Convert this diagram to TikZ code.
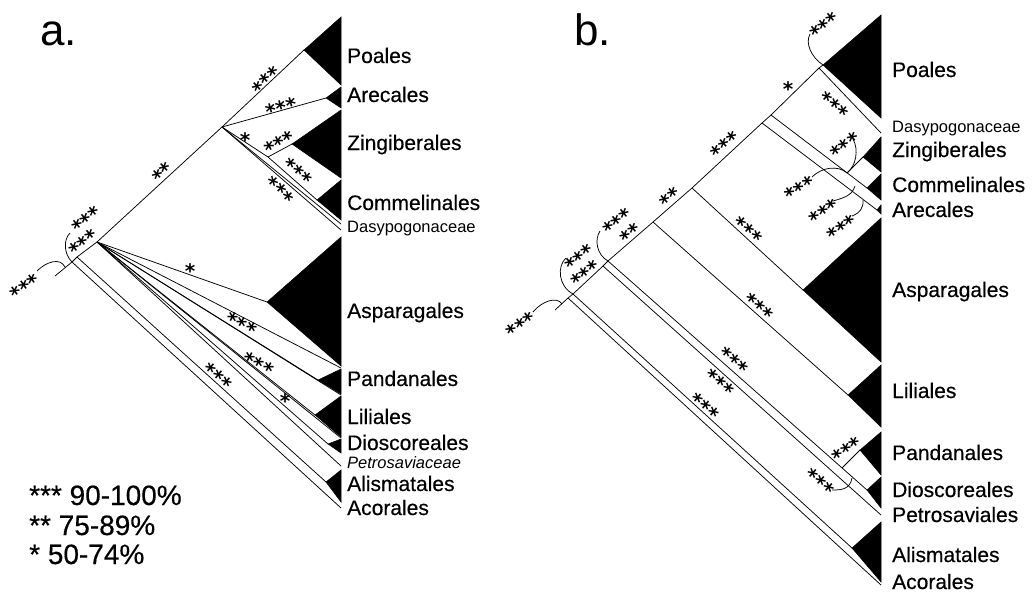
\documentclass[tikz,border=0pt]{standalone}
\usepackage{fontspec}
\setmainfont{Liberation Sans}
\newfontfamily\labfont[FakeBold=0.4]{Liberation Sans}
\newfontfamily\starfont{DejaVu Sans}
\newcommand\stk[1]{\smash{\raisebox{-0.57em}{#1}}}
\tikzset{
  br/.style={line width=0.75pt, line join=round},
  tri/.style={fill=black, draw=black, line width=0.5pt},
  lab/.style={anchor=base west, inner sep=0pt, font=\labfont\fontsize{21}{24}\selectfont},
  slab/.style={anchor=base west, inner sep=0pt, font=\fontsize{16.5}{19}\selectfont},
  st/.style={inner sep=0pt, font=\starfont\bfseries\fontsize{20}{22}\selectfont},
  big/.style={anchor=base west, inner sep=0pt, font=\fontsize{44}{50}\selectfont},
  leg/.style={anchor=base west, inner sep=0pt, font=\labfont\fontsize{28}{32}\selectfont},
}
\begin{document}
\begin{tikzpicture}[x=1pt,y=-1pt]
\useasboundingbox (0,0) rectangle (1032,592);
\fill[white] (0,0) rectangle (1032,592);

% ================= PANEL A =================
\node[big] (atitle) at (40,45) {a.};
\coordinate (aS) at (55,276);
\coordinate (aR) at (72,262);
\coordinate (aN1) at (77,257);
\coordinate (aN2) at (97,242);
\coordinate (aN3) at (222,127);
\coordinate (aN4) at (268,157);
\coordinate (aPo) at (304,50);
\coordinate (aAr) at (326,98);
\coordinate (aZi) at (292,144);
\coordinate (aCo) at (317,200);
\coordinate (aDa1) at (341,224);
\coordinate (aDa2) at (341,230);
\coordinate (aAs) at (267,302);
\coordinate (aPa) at (318,380);
\coordinate (aPaT) at (341,368);
\coordinate (aLi) at (315,415);
\coordinate (aLiT) at (341,395);
\coordinate (aDi) at (328,444);
\coordinate (aDiT) at (341,438);
\coordinate (aPe) at (341,466);
\coordinate (aAl) at (326,482);
\coordinate (aAc) at (341,508);
\fill[tri] (341,17) -- (aPo) -- (341,85) -- cycle;
\fill[tri] (341,87) -- (aAr) -- (341,108) -- cycle;
\fill[tri] (341,110) -- (aZi) -- (341,178) -- cycle;
\fill[tri] (341,180) -- (aCo) -- (341,220) -- cycle;
\fill[tri] (341,237) -- (aAs) -- (341,366) -- cycle;
\fill[tri] (341,369) -- (aPa) -- (341,394) -- cycle;
\fill[tri] (341,396) -- (aLi) -- (341,437) -- cycle;
\fill[tri] (341,439) -- (aDi) -- (341,453) -- cycle;
\fill[tri] (341,470) -- (aAl) -- (341,502) -- cycle;
\draw[br] (aS) -- (aR) -- (aN1) -- (aN2) -- (aN3);
\draw[br] (aR) -- (aAc);
\draw[br] (aN1) -- (aAl);
\draw[br] (aN2) -- (aPe);
\draw[br] (aN2) -- (aDi);
\draw[br] (aN2) -- (aDiT);
\draw[br] (aN2) -- (aLi);
\draw[br] (aN2) -- (aLiT);
\draw[br] (aN2) -- (aPa);
\draw[br] (aN2) -- (aPaT);
\draw[br] (aN2) -- (aAs);
\draw[br] (aN3) -- (aPo);
\draw[br] (aN3) -- (aAr);
\draw[br] (aN3) -- (aN4);
\draw[br] (aN4) -- (aZi);
\draw[br] (aN4) -- (aCo);
\draw[br] (aN3) -- (aDa1);
\draw[br] (aN3) -- (aDa2);
\coordinate (aL1) at (37,271);
\coordinate (aL2) at (65,267);
\draw[br] (aL1) .. controls (46,262) and (60,257) .. (aL2);
\coordinate (aB1) at (70,233);
\draw[br] (aB1) .. controls (63,240) and (64,254) .. (aR);
\node[st,rotate=43] (as1) at (264,78) {\stk{***}};
\node[st,rotate=15] (as2) at (280,104) {\stk{***}};
\node[st] (as3) at (245,136) {\stk{*}};
\node[st,rotate=28] (as4) at (278,140) {\stk{***}};
\node[st,rotate=-40] (as5) at (300,169) {\stk{***}};
\node[st,rotate=-47] (as6) at (282,188) {\stk{***}};
\node[st,rotate=43] (as7) at (160,170) {\stk{**}};
\node[st,rotate=40] (as8) at (84,217) {\stk{***}};
\node[st,rotate=40] (as9) at (81,240) {\stk{***}};
\node[st,rotate=35] (as10) at (23,284) {\stk{***}};
\node[st] (as11) at (190,267) {\stk{*}};
\node[st,rotate=-29] (as12) at (243,321) {\stk{***}};
\node[st,rotate=-29] (as13) at (260,361) {\stk{***}};
\node[st] (as14) at (285,397) {\stk{*}};
\node[st,rotate=-39] (as15) at (220,374) {\stk{***}};
\node[lab] (tPo) at (347,63) {Poales};
\node[lab] (tAr) at (347,102) {Arecales};
\node[lab] (tZi) at (347,150) {Zingiberales};
\node[lab] (tCo) at (347,210) {Commelinales};
\node[slab] (tDa) at (347,232) {Dasypogonaceae};
\node[lab] (tAs) at (347,318) {Asparagales};
\node[lab] (tPa) at (347,386) {Pandanales};
\node[lab] (tLi) at (347,424) {Liliales};
\node[lab] (tDi) at (347,450) {Dioscoreales};
\node[slab] (tPe) at (347,468) {\itshape Petrosaviaceae};
\node[lab] (tAl) at (347,491) {Alismatales};
\node[lab] (tAc) at (347,515) {Acorales};
\node[leg] (lg1) at (29,505) {*** 90-100\%};
\node[leg] (lg2) at (29,535) {** 75-89\%};
\node[leg] (lg3) at (29,564) {* 50-74\%};

% ================= PANEL B =================
\node[big] (btitle) at (574,45) {b.};
\coordinate (bS) at (555,310);
\coordinate (bR) at (568,298);
\coordinate (bN1) at (573,294);
\coordinate (bN2p) at (603,266);
\coordinate (bN2) at (608,261);
\coordinate (bN3) at (653,222);
\coordinate (bN4) at (692,188);
\coordinate (bN5) at (762,123);
\coordinate (bN6) at (771,115);
\coordinate (bP) at (819,68);
\coordinate (bPo) at (823,65);
\coordinate (bDa) at (881,133);
\coordinate (bZiJ) at (847,173);
\coordinate (bZi) at (863,157);
\coordinate (bCo) at (867,188);
\coordinate (bAr) at (877,210);
\coordinate (bAs) at (803,290);
\coordinate (bLi) at (848,395);
\coordinate (bPaJ) at (842,468);
\coordinate (bPa) at (860,450);
\coordinate (bDi) at (867,490);
\coordinate (bPe) at (881,515);
\coordinate (bAl) at (852,548);
\coordinate (bAc) at (881,585);
\fill[tri] (881,15) -- (bPo) -- (881,118) -- cycle;
\fill[tri] (881,137) -- (bZi) -- (881,172) -- cycle;
\fill[tri] (881,174) -- (bCo) -- (881,200) -- cycle;
\fill[tri] (881,205) -- (bAr) -- (881,214) -- cycle;
\fill[tri] (881,218) -- (bAs) -- (881,362) -- cycle;
\fill[tri] (881,365) -- (bLi) -- (881,427) -- cycle;
\fill[tri] (881,432) -- (bPa) -- (881,475) -- cycle;
\fill[tri] (881,477) -- (bDi) -- (881,508) -- cycle;
\fill[tri] (881,522) -- (bAl) -- (881,582) -- cycle;
\draw[br] (bS) -- (bR) -- (bN1) -- (bN2p) -- (bN2) -- (bN3) -- (bN4) -- (bN5) -- (bN6) -- (bP) -- (bPo);
\draw[br] (bR) -- (bAc);
\draw[br] (bN1) -- (bAl);
\draw[br] (bN2p) -- (bPe);
\draw[br] (bN2) -- (bDi);
\draw[br] (bPaJ) -- (bPa);
\draw[br] (bN3) -- (bLi);
\draw[br] (bN4) -- (bAs);
\draw[br] (bN5) -- (bAr);
\draw[br] (bN6) -- (bCo);
\draw[br] (bZiJ) -- (bZi);
\draw[br] (bP) -- (bDa);
\coordinate (bL1) at (533,312);
\coordinate (bL2) at (562,304);
\draw[br] (bL1) .. controls (542,301) and (557,296) .. (bL2);
\coordinate (bB1) at (566,258);
\draw[br] (bB1) .. controls (557,266) and (558,286) .. (bN1);
\coordinate (bB2) at (600,231);
\draw[br] (bB2) .. controls (594,240) and (597,255) .. (bN2);
\coordinate (bQ1) at (810,34);
\draw[br] (bQ1) .. controls (805,43) and (811,57) .. (bPo);
\coordinate (bQ2) at (853,139);
\draw[br] (bQ2) .. controls (859,150) and (856,166) .. (bZiJ);
\coordinate (bQ3) at (812,177);
\draw[br] (bQ3) .. controls (822,167) and (838,165) .. (bZiJ);
\coordinate (bQ4) at (833,201);
\coordinate (bQ4e) at (855,186);
\draw[br] (bQ4) .. controls (843,198) and (852,196) .. (bQ4e);
\coordinate (bQ5) at (852,216);
\coordinate (bQ5e) at (863,200);
\draw[br] (bQ5) .. controls (860,213) and (864,207) .. (bQ5e);
\coordinate (bQ6) at (832,490);
\coordinate (bQ6e) at (852,478);
\draw[br] (bQ6) .. controls (840,490) and (850,490) .. (bQ6e);
\node[st,rotate=35] (bs1) at (519,322) {\stk{***}};
\node[st,rotate=40] (bs2) at (577,255) {\stk{***}};
\node[st,rotate=40] (bs3) at (583,271) {\stk{***}};
\node[st,rotate=40] (bs4) at (615,219) {\stk{***}};
\node[st,rotate=40] (bs5) at (628,231) {\stk{**}};
\node[st,rotate=42] (bs6) at (668,195) {\stk{**}};
\node[st,rotate=42] (bs7) at (723,143) {\stk{***}};
\node[st] (bs8) at (788,85) {\stk{*}};
\node[st,rotate=40] (bs9) at (822,23) {\stk{***}};
\node[st,rotate=-43] (bs10) at (836,103) {\stk{***}};
\node[st,rotate=38] (bs11) at (843,143) {\stk{***}};
\node[st,rotate=32] (bs12) at (798,186) {\stk{***}};
\node[st,rotate=35] (bs13) at (822,209) {\stk{***}};
\node[st,rotate=35] (bs14) at (840,225) {\stk{***}};
\node[st,rotate=-43] (bs15) at (750,228) {\stk{***}};
\node[st,rotate=-41] (bs16) at (761,304) {\stk{***}};
\node[st,rotate=-40] (bs17) at (736,358) {\stk{***}};
\node[st,rotate=-40] (bs18) at (722,380) {\stk{***}};
\node[st,rotate=-40] (bs19) at (707,404) {\stk{***}};
\node[st,rotate=35] (bs20) at (845,447) {\stk{***}};
\node[st,rotate=-42] (bs21) at (822,480) {\stk{***}};
\node[lab] (uPo) at (892,77) {Poales};
\node[slab] (uDa) at (892,132) {Dasypogonaceae};
\node[lab] (uZi) at (892,157) {Zingiberales};
\node[lab] (uCo) at (892,192) {Commelinales};
\node[lab] (uAr) at (892,217) {Arecales};
\node[lab] (uAs) at (892,297) {Asparagales};
\node[lab] (uLi) at (892,398) {Liliales};
\node[lab] (uPa) at (892,460) {Pandanales};
\node[lab] (uDi) at (892,497) {Dioscoreales};
\node[lab] (uPe) at (892,522) {Petrosaviales};
\node[lab] (uAl) at (892,562) {Alismatales};
\node[lab] (uAc) at (892,589) {Acorales};
\end{tikzpicture}
\end{document}
